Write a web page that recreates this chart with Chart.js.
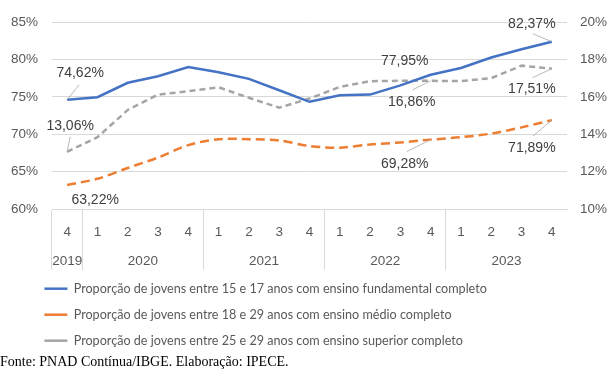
<!DOCTYPE html>
<html><head><meta charset="utf-8">
<script src="https://cdn.jsdelivr.net/npm/chart.js@4"></script>
<style>
html,body{margin:0;padding:0;background:#fff;}
#wrap{position:relative;width:616px;height:371px;overflow:hidden;}
#c{position:absolute;left:0;top:0;}
#fonte{position:absolute;left:0;top:354px;font:14px/16px "Liberation Serif",serif;color:#000;white-space:nowrap;}
</style></head><body>
<div id="wrap"><canvas id="c" width="616" height="371"></canvas><div id="fonte">Fonte: PNAD Contínua/IBGE. Elaboração: IPECE.</div></div>
<script>
// ---- data ----
const quarters = ['4','1','2','3','4','1','2','3','4','1','2','3','4','1','2','3','4'];
const years = ['2019','2020','2021','2022','2023'];
const yearSpans = [1,4,4,4,4];
const fundamental = [74.62,74.95,76.88,77.76,78.99,78.29,77.41,75.88,74.34,75.22,75.30,76.54,77.95,78.86,80.26,81.36,82.37];
const medio = [63.22,64.04,65.49,66.88,68.55,69.34,69.34,69.17,68.42,68.20,68.64,68.90,69.28,69.60,70.09,70.92,71.89];
const superior = [13.06,13.84,15.30,16.12,16.30,16.51,15.95,15.42,15.91,16.53,16.84,16.86,16.86,16.84,17.00,17.67,17.51];
const seriesNames = [
  'Proporção de jovens entre 15 e 17 anos com ensino fundamental completo',
  'Proporção de jovens entre 18 e 29 anos com ensino médio completo',
  'Proporção de jovens entre 25 e 29 anos com ensino superior completo'
];
const leftRange = [60, 85, 5];
const rightRange = [10, 20, 2];
const labeledIdx = [0, 12, 16];

// ---- derived (from data) ----
const yearCenters = [];
const yearBoundaries = new Set([0]);
{ let s = 0; yearSpans.forEach(n => { yearCenters.push(s - 0.5 + n / 2); s += n; yearBoundaries.add(s); }); }

// ---- style ----
const FONT = "'Liberation Sans', Arial, sans-serif";
const LEGFONT = "Lato, 'Liberation Sans', sans-serif";
const GRID = '#d9d9d9';
const TXT = '#595959';
const LEGEND_SHIFT = 31;
// label placement offsets (pixels) per dataset, per labeled index: label centre (dx,dy), leader end (lx,ly)
const labelPos = [
  [{dx:13,dy:-27,lx:12,ly:-15},{dx:-26,dy:-14},{dx:-20,dy:-18,lx:-19,ly:-8}],
  [{dx:28,dy:15},{dx:-26,dy:25,lx:-24,ly:12},{dx:-20,dy:28,lx:-19,ly:16}],
  [{dx:3,dy:-26,lx:3,ly:-15},{dx:-19,dy:21,lx:-18,ly:9},{dx:-20,dy:21,lx:-19,ly:9}]
];
const fmt = v => v.toFixed(2).replace('.', ',') + '%';

const labelPlugin = {
  id: 'dataLabels',
  afterLayout(chart) {
    if (chart.legend) { chart.legend.left += LEGEND_SHIFT; chart.legend.right += LEGEND_SHIFT; }
  },
  afterDatasetsDraw(chart) {
    const ctx = chart.ctx;
    ctx.save();
    chart.data.datasets.forEach((ds, di) => {
      const meta = chart.getDatasetMeta(di);
      labeledIdx.forEach((idx, k) => {
        const p = meta.data[idx];
        const o = labelPos[di][k];
        if (o.lx !== undefined) {
          ctx.strokeStyle = '#a6a6a6';
          ctx.lineWidth = 0.8;
          ctx.setLineDash([]);
          ctx.beginPath();
          ctx.moveTo(p.x, p.y);
          ctx.lineTo(p.x + o.lx, p.y + o.ly);
          ctx.stroke();
        }
        ctx.fillStyle = '#404040';
        ctx.font = '14px ' + FONT;
        ctx.textAlign = 'center';
        ctx.textBaseline = 'middle';
        ctx.fillText(fmt(ds.data[idx]), p.x + o.dx, p.y + o.dy);
      });
    });
    ctx.restore();
  }
};

new Chart(document.getElementById('c'), {
  type: 'line',
  data: {
    labels: quarters,
    datasets: [
      {label: seriesNames[0], data: fundamental, yAxisID: 'y', borderColor: '#4472C4', backgroundColor: '#4472C4', borderWidth: 2.5, pointRadius: 0, tension: 0, fill: false},
      {label: seriesNames[1], data: medio, yAxisID: 'y', borderColor: '#ED7D31', backgroundColor: '#ED7D31', borderWidth: 2.5, borderDash: [9,5], pointRadius: 0, tension: 0.3, fill: false},
      {label: seriesNames[2], data: superior, yAxisID: 'y1', borderColor: '#A5A5A5', backgroundColor: '#A5A5A5', borderWidth: 2.5, borderDash: [6,4], pointRadius: 0, tension: 0, fill: false}
    ]
  },
  options: {
    responsive: false, animation: false, devicePixelRatio: 1,
    layout: {padding: {left: 0, right: 0, top: 19, bottom: 14}},
    plugins: {
      tooltip: {enabled: false},
      legend: {
        position: 'bottom', align: 'start',
        labels: {usePointStyle: true, pointStyle: 'line', pointStyleWidth: 23, padding: 13.4, color: TXT, font: {size: 12.6, family: LEGFONT}}
      }
    },
    scales: {
      x: {
        type: 'category', position: 'bottom', offset: true,
        grid: {offset: true, drawOnChartArea: false, drawTicks: true, tickLength: 61, lineWidth: 1,
               color: c => yearBoundaries.has(c.index) ? GRID : 'rgba(0,0,0,0)'},
        border: {display: true, color: GRID},
        ticks: {padding: -46, color: TXT, font: {size: 13.5, family: FONT}, maxRotation: 0, autoSkip: false},
        afterFit: s => { s.height = 30; }
      },
      x2: {
        type: 'linear', position: 'bottom', min: -0.5, max: 16.5,
        grid: {display: false, drawTicks: false}, border: {display: false},
        afterBuildTicks: s => { s.ticks = yearCenters.map(v => ({value: v})); },
        ticks: {padding: 14.6, color: TXT, font: {size: 13.5, family: FONT}, maxRotation: 0, autoSkip: false,
                callback: v => years[yearCenters.indexOf(v)]},
        afterFit: s => { s.height = 30; }
      },
      y: {
        position: 'left', min: leftRange[0], max: leftRange[1],
        ticks: {stepSize: leftRange[2], padding: 14, color: TXT, font: {size: 13.5, family: FONT}, callback: v => v + '%'},
        grid: {color: GRID, drawTicks: false, lineWidth: 1}, border: {display: false},
        afterFit: s => { s.width = 52; }
      },
      y1: {
        position: 'right', min: rightRange[0], max: rightRange[1],
        ticks: {stepSize: rightRange[2], padding: 13, color: TXT, font: {size: 13.5, family: FONT}, callback: v => v + '%'},
        grid: {display: false, drawTicks: false}, border: {display: false},
        afterFit: s => { s.width = 49; }
      }
    }
  },
  plugins: [labelPlugin]
});
</script>
</body></html>
